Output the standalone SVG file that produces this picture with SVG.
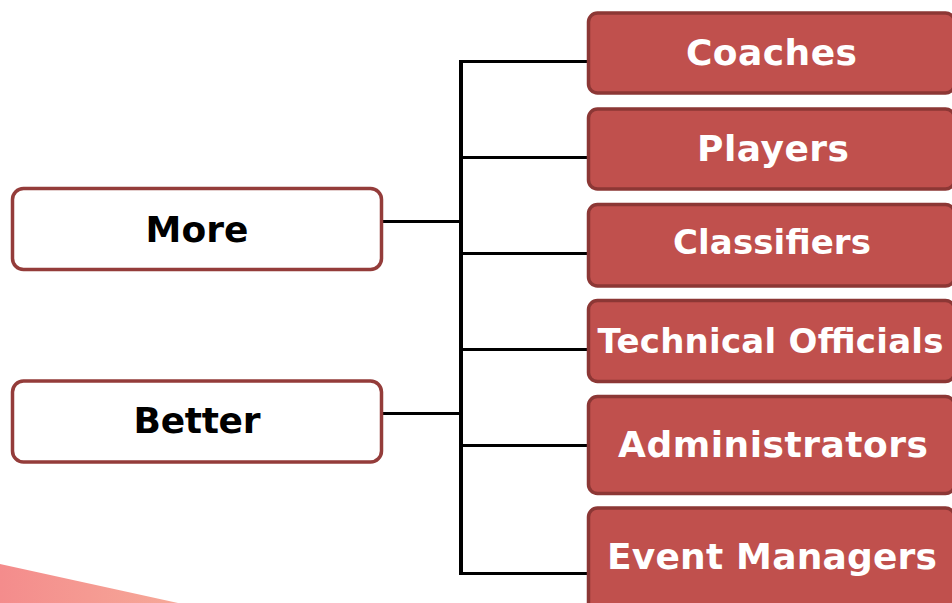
<svg xmlns="http://www.w3.org/2000/svg" width="952" height="603" viewBox="0 0 952 603">
<defs>
<linearGradient id="pink" x1="0" y1="0" x2="1" y2="0">
<stop offset="0" stop-color="#f48c8c"/>
<stop offset="1" stop-color="#f6a898"/>
</linearGradient>
<style>
.left rect{fill:#ffffff;stroke:#943c3a;stroke-width:3.5}
.left text{font-family:"DejaVu Sans",Verdana,sans-serif;font-weight:bold;font-size:36px;fill:#000;text-anchor:middle}
.right rect{fill:#c0504d;stroke:#8c3735;stroke-width:3.5}
.right text{font-family:"DejaVu Sans",Verdana,sans-serif;font-weight:bold;fill:#fff;text-anchor:middle}
.conn line{stroke:#000;stroke-width:3}
</style>
</defs>
<rect width="952" height="603" fill="#fff"/>
<polygon points="0,564 178,603 0,603" fill="url(#pink)"/>
<g id="connectors" class="conn">
<line x1="461" y1="60" x2="461" y2="575" style="stroke-width:4"/>
<line x1="461" y1="61.5" x2="589" y2="61.5"/>
<line x1="461" y1="157.5" x2="589" y2="157.5"/>
<line x1="461" y1="253.5" x2="589" y2="253.5"/>
<line x1="461" y1="349.5" x2="589" y2="349.5"/>
<line x1="461" y1="445.5" x2="589" y2="445.5"/>
<line x1="461" y1="573.5" x2="589" y2="573.5"/>
<line x1="382" y1="221.5" x2="461" y2="221.5"/>
<line x1="382" y1="413.5" x2="461" y2="413.5"/>
</g>
<g id="more" class="left">
<rect x="12.5" y="188.5" width="369" height="81" rx="11"/>
<text x="197" y="242" textLength="103" lengthAdjust="spacing">More</text>
</g>
<g id="better" class="left">
<rect x="12.5" y="381" width="369" height="81" rx="11"/>
<text x="197" y="433" textLength="127" lengthAdjust="spacing">Better</text>
</g>
<g id="coaches" class="right">
<rect x="588.5" y="13" width="366" height="80" rx="9"/>
<text x="771.5" y="65" font-size="36" textLength="171" lengthAdjust="spacing">Coaches</text>
</g>
<g id="players" class="right">
<rect x="588.5" y="109" width="366" height="80" rx="9"/>
<text x="773" y="161" font-size="36" textLength="152" lengthAdjust="spacing">Players</text>
</g>
<g id="classifiers" class="right">
<rect x="588.5" y="204.5" width="366" height="81.5" rx="9"/>
<text x="772" y="254" font-size="34" textLength="198" lengthAdjust="spacing">Classifiers</text>
</g>
<g id="technical-officials" class="right">
<rect x="588.5" y="300.5" width="366" height="81" rx="9"/>
<text x="770.5" y="353" font-size="34" textLength="346" lengthAdjust="spacing">Technical Officials</text>
</g>
<g id="administrators" class="right">
<rect x="588.5" y="396.5" width="366" height="97" rx="9"/>
<text x="773" y="457" font-size="36" textLength="310" lengthAdjust="spacing">Administrators</text>
</g>
<g id="event-managers" class="right">
<rect x="588.5" y="508" width="366" height="104" rx="9"/>
<text x="772" y="569" font-size="36" textLength="330" lengthAdjust="spacing">Event Managers</text>
</g>
</svg>
